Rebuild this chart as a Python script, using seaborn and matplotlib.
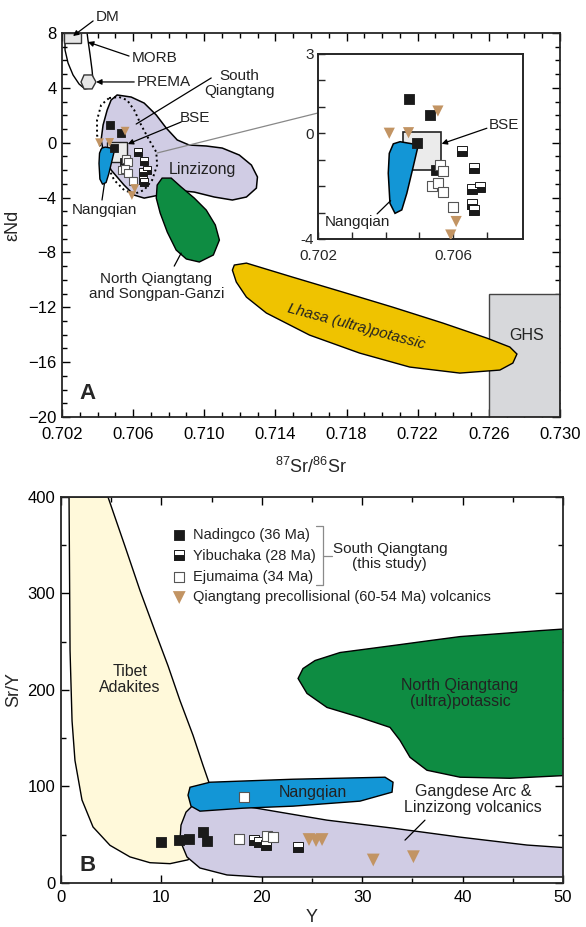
import matplotlib
matplotlib.use('Agg')
import matplotlib.pyplot as plt
import seaborn as sns
from matplotlib.ticker import MultipleLocator

# ---- panel A samples (87Sr/86Sr, eNd)
nad_sr = [0.70468, 0.70532, 0.70492, 0.70550]
nad_nd = [1.29, 0.69, -0.38, -1.39]
yib_sr = [0.70626, 0.70663, 0.70655, 0.70680, 0.70655, 0.70663]
yib_nd = [-0.67, -1.32, -2.12, -2.02, -2.69, -2.90]
eju_sr = [0.70561, 0.70569, 0.70537, 0.70556, 0.70569, 0.70601]
eju_nd = [-1.22, -1.43, -1.99, -1.89, -2.21, -2.80]
qtv_sr = [0.70411, 0.70468, 0.70555, 0.70609, 0.70593]
qtv_nd = [0.00, 0.02, 0.84, -3.34, -3.85]

# ---- panel A fields
linz_sr = [0.70510, 0.70589, 0.70662, 0.70730, 0.70786, 0.70848, 0.70915, 0.71011, 0.71101, 0.71197,
           0.71265, 0.71299, 0.71293, 0.71237, 0.71158, 0.71056, 0.70944, 0.70831, 0.70746, 0.70662,
           0.70606, 0.70549, 0.70476, 0.70437, 0.70420, 0.70431, 0.70454, 0.70476]
linz_nd = [3.48, 3.33, 2.89, 2.02, 1.07, 0.20, -0.17, -0.24, -0.39, -0.90,
           -1.63, -2.50, -3.31, -3.96, -4.18, -3.96, -3.60, -3.45, -3.82, -4.04,
           -3.82, -3.09, -1.99, -0.90, 0.20, 1.29, 2.38, 3.11]
sq_sr = [0.70465, 0.70521, 0.70566, 0.70606, 0.70645, 0.70690, 0.70730, 0.70735, 0.70707,
         0.70662, 0.70606, 0.70549, 0.70493, 0.70454, 0.70420, 0.70397, 0.70397, 0.70420]
sq_nd = [3.26, 3.33, 3.11, 2.38, 1.29, 0.20, -0.68, -1.63, -2.72,
         -3.45, -3.74, -3.45, -2.72, -1.63, -0.53, 0.56, 1.65, 2.75]
nq_sr = [0.70443, 0.70497, 0.70482, 0.70463, 0.70448, 0.70428, 0.70413, 0.70408, 0.70411, 0.70423]
nq_nd = [-0.32, -0.44, -1.26, -2.27, -2.90, -3.03, -2.65, -1.51, -0.76, -0.40]
nqsg_sr = [0.70735, 0.70763, 0.70814, 0.70870, 0.70944, 0.71011, 0.71062, 0.71085,
           0.71051, 0.70972, 0.70899, 0.70842, 0.70792, 0.70752, 0.70730]
nqsg_nd = [-3.09, -2.58, -2.58, -3.23, -4.04, -4.91, -6.00, -7.10,
           -8.19, -8.70, -8.48, -7.83, -6.52, -5.13, -4.04]
lhasa_sr = [0.71169, 0.71237, 0.71496, 0.71778, 0.72059, 0.72341, 0.72589, 0.72718, 0.72758, 0.72735,
            0.72662, 0.72437, 0.72155, 0.71873, 0.71592, 0.71349, 0.71237, 0.71180, 0.71158]
lhasa_nd = [-8.92, -8.78, -9.80, -10.89, -11.99, -13.15, -14.25, -14.90, -15.41, -16.07,
            -16.58, -16.80, -16.36, -15.34, -14.03, -12.42, -11.26, -10.16, -9.29]
morb_sr = [0.70217, 0.70217, 0.70234, 0.70262, 0.70296, 0.70329, 0.70358, 0.70375, 0.70369, 0.70358, 0.70346, 0.70341]
morb_nd = [7.78, 6.76, 5.81, 4.94, 4.28, 3.92, 3.99, 4.43, 5.30, 6.40, 7.49, 8.00]
prema_sr = [0.70307, 0.70324, 0.70369, 0.70391, 0.70369, 0.70324]
prema_nd = [4.43, 4.94, 4.94, 4.43, 3.92, 3.92]
dm_sr = [0.70212, 0.70307]
dm_nd = [7.30, 8.00]
bse_sr = [0.70452, 0.70564]
bse_nd = [-1.39, 0.05]
ghs_sr = [0.7260, 0.7300]
ghs_nd = [-20.0, -11.0]

xticks_A = [0.702, 0.706, 0.710, 0.714, 0.718, 0.722, 0.726, 0.730]
yticks_A = [-20, -16, -12, -8, -4, 0, 4, 8]
xticks_in = [0.702, 0.703, 0.704, 0.705, 0.706, 0.707]
xlabels_in = ['0.702', '', '', '', '0.706', '']
yticks_in = [-4, -3, -2, -1, 0, 1, 2, 3]
ylabels_in = ['-4', '', '', '', '0', '', '', '3']

# ---- panel B samples (Y, Sr/Y)
nad_y = [10.0, 11.8, 12.7, 14.1, 14.5]
nad_sry = [42, 45, 46, 53, 43]
yib_y = [19.2, 19.7, 20.4, 23.6]
yib_sry = [45, 42, 39.5, 37]
eju_y = [17.7, 20.5, 21.1, 18.2]
eju_sry = [46, 48.6, 47.9, 89]
qtv_y = [24.7, 25.4, 26.0, 31.1, 35.1]
qtv_sry = [45, 44, 45, 23.8, 27.2]

# ---- panel B fields
tibet_y = [0.80, 4.68, 6.37, 7.87, 9.36, 10.66, 11.85, 13.15, 14.14, 14.84, 15.24,
           14.34, 12.65, 10.86, 8.86, 6.87, 4.88, 3.19, 2.09, 1.39, 1.10, 0.90]
tibet_sry = [400, 400, 349, 303, 261, 225, 189, 153, 122, 101, 81,
             50, 24, 20, 21, 27, 39, 58, 86, 127, 168, 241]
gang_y = [18.82, 26.49, 33.07, 39.74, 46.41, 50.70, 50.70, 26.49, 19.82, 16.53,
          13.84, 12.55, 11.85, 11.95, 12.45, 13.35, 14.84, 17.33]
gang_sry = [78.6, 65.1, 56.8, 47.5, 39.3, 36.2, 6.2, 6.2, 6.2, 8.3,
            15.5, 26.9, 44.4, 59.9, 73.4, 82.7, 85.8, 82.7]
nqb_y = [12.85, 14.84, 23.11, 32.27, 33.07, 32.97, 29.78, 23.11, 18.13, 13.84, 12.95, 12.65]
nqb_sry = [99.2, 104.4, 107.5, 109.6, 104.4, 94.1, 84.8, 79.6, 77.5, 74.4, 79.6, 91.0]
nqp_y = [23.61, 24.10, 25.30, 27.79, 30.78, 33.76, 36.75, 39.74, 43.73, 47.71, 50.70,
         50.70, 44.72, 39.74, 36.45, 34.76, 33.76, 32.77, 29.78, 26.49, 24.50]
nqp_sry = [211.9, 222.2, 230.5, 238.8, 242.9, 247.0, 251.2, 255.3, 258.4, 261.5, 263.6,
           111.6, 108.5, 109.6, 116.8, 130.2, 147.8, 161.2, 171.6, 181.9, 196.4]

legend_labels = ['Nadingco (36 Ma)', 'Yibuchaka (28 Ma)', 'Ejumaima (34 Ma)',
                 'Qiangtang precollisional (60-54 Ma) volcanics']

LAV = '#D0CCE4'
BLUE = '#1396D6'
GREEN = '#0E8C42'
GOLD = '#EFC300'
TAN = '#C29463'
DARK = '#1a1a1a'

sns.set_style('ticks')
plt.rcParams['font.family'] = ['Liberation Sans', 'DejaVu Sans']
plt.rcParams['mathtext.fontset'] = 'custom'
plt.rcParams['mathtext.rm'] = 'Liberation Sans'
plt.rcParams['mathtext.it'] = 'Liberation Sans:italic'

fig = plt.figure(figsize=(5.86, 9.27), dpi=100)
axA = fig.add_axes([0.1058, 0.5502, 0.8498, 0.4142])
axI = fig.add_axes([0.5427, 0.7422, 0.3498, 0.1996])
axB = fig.add_axes([0.1041, 0.0475, 0.8567, 0.4164])


def box(ax, xs, ys, fc, ec, z, lw=1.0):
    ax.fill([xs[0], xs[1], xs[1], xs[0]], [ys[0], ys[0], ys[1], ys[1]],
            facecolor=fc, edgecolor=ec, lw=lw, zorder=z)


def samples(ax, s_sq, s_tri, ms, data):
    (nx, ny), (yx, yy), (ex, ey), (tx, ty) = data
    sns.scatterplot(x=nx, y=ny, ax=ax, marker='s', color=DARK, edgecolor=DARK,
                    s=s_sq, linewidth=0.6, zorder=5, legend=False)
    h_nad = ax.collections[-1]
    h_yib, = ax.plot(yx, yy, ls='none', marker='s', ms=ms, fillstyle='bottom',
                     markerfacecolor=DARK, markerfacecoloralt='white',
                     markeredgecolor=DARK, markeredgewidth=0.7, zorder=5)
    sns.scatterplot(x=ex, y=ey, ax=ax, marker='s', color='white', edgecolor='#555555',
                    s=s_sq, linewidth=0.8, zorder=6, legend=False)
    h_eju = ax.collections[-1]
    sns.scatterplot(x=tx, y=ty, ax=ax, marker='v', color=TAN, edgecolor='none',
                    s=s_tri, zorder=7, legend=False)
    h_qtv = ax.collections[-1]
    return [h_nad, h_yib, h_eju, h_qtv]


srnd = [(nad_sr, nad_nd), (yib_sr, yib_nd), (eju_sr, eju_nd), (qtv_sr, qtv_nd)]

# ================= panel A =================
axA.plot(morb_sr, morb_nd, color='k', lw=1.0, zorder=2)
box(axA, dm_sr, dm_nd, '#E6E6E6', '#333333', 3)
axA.fill(prema_sr, prema_nd, facecolor='#E6E6E6', edgecolor='#333333', lw=1.0, zorder=3)
axA.fill(linz_sr, linz_nd, facecolor=LAV, edgecolor='k', lw=1.1, zorder=1)
axA.fill(sq_sr, sq_nd, facecolor='none', edgecolor='k', lw=1.4, ls=(0, (1, 1.6)), zorder=2)
box(axA, bse_sr, bse_nd, '#EBEBEB', '#222222', 3)
axA.fill(nq_sr, nq_nd, facecolor=BLUE, edgecolor='k', lw=1.0, zorder=4)
axA.fill(nqsg_sr, nqsg_nd, facecolor=GREEN, edgecolor='k', lw=1.0, zorder=2)
box(axA, ghs_sr, ghs_nd, '#D7D8DB', '#444444', 1)
axA.fill(lhasa_sr, lhasa_nd, facecolor=GOLD, edgecolor='k', lw=1.0, zorder=2)
samples(axA, 30, 40, 5.4, srnd)

# connector to the inset
axA.plot([0.70735, 0.71637], [-0.75, 2.16], color='#888888', lw=0.9, zorder=2)

arr = dict(arrowstyle='-|>', color='k', lw=0.9, mutation_scale=8, shrinkA=0, shrinkB=0)
ln = dict(arrowstyle='-', color='k', lw=0.9, shrinkA=0, shrinkB=0)
lab = dict(fontsize=11, color='#222222')
axA.text(0.70454, 9.17, 'DM', ha='center', va='center', **lab)
axA.annotate('', xy=(0.70262, 7.78), xytext=(0.70375, 8.88), arrowprops=arr, annotation_clip=False)
axA.text(0.70594, 6.18, 'MORB', ha='left', va='center', **lab)
axA.annotate('', xy=(0.70346, 7.34), xytext=(0.70577, 6.32), arrowprops=arr)
axA.text(0.70623, 4.43, 'PREMA', ha='left', va='center', **lab)
axA.annotate('', xy=(0.70392, 4.43), xytext=(0.70606, 4.43), arrowprops=arr)
axA.text(0.71197, 4.32, 'South\nQiangtang', ha='center', va='center', linespacing=1.05, **lab)
axA.annotate('', xy=(0.70617, 1.36), xytext=(0.71039, 4.72), arrowprops=ln)
axA.text(0.70949, 1.80, 'BSE', ha='center', va='center', **lab)
axA.annotate('', xy=(0.70570, -0.10), xytext=(0.70870, 1.51), arrowprops=arr)
axA.text(0.70989, -1.99, 'Linzizong', ha='center', va='center', fontsize=11.5, color='#222222')
axA.text(0.70437, -4.91, 'Nangqian', ha='center', va='center', **lab)
axA.annotate('', xy=(0.70454, -1.63), xytext=(0.70425, -4.18), arrowprops=ln)
axA.text(0.70730, -10.49, 'North Qiangtang\nand Songpan-Ganzi', ha='center', va='center',
         linespacing=1.05, **lab)
axA.annotate('', xy=(0.70870, -8.05), xytext=(0.70831, -9.00), arrowprops=ln)
axA.text(0.71856, -13.44, 'Lhasa (ultra)potassic', ha='center', va='center', rotation=-15,
         rotation_mode='anchor', style='italic', fontsize=11, color='#222222', zorder=6)
axA.text(0.72814, -14.03, 'GHS', ha='center', va='center', fontsize=11.5, color='#222222')
axA.text(0.70341, -18.26, 'A', ha='center', va='center', fontsize=16, fontweight='bold')

axA.set_xlim(0.702, 0.730)
axA.set_ylim(-20, 8)
axA.set_xticks(xticks_A, labels=['%.3f' % v for v in xticks_A])
axA.set_yticks(yticks_A)
axA.xaxis.set_minor_locator(MultipleLocator(0.001))
axA.yaxis.set_minor_locator(MultipleLocator(1))
axA.set_xlabel(r'$^{87}$Sr/$^{86}$Sr', fontsize=13)
axA.set_ylabel('εNd', fontsize=13)
axA.xaxis.set_label_coords(0.5, -0.105)
axA.yaxis.set_label_coords(-0.082, 0.5)

# ================= inset =================
box(axI, bse_sr, bse_nd, '#EBEBEB', '#222222', 2, lw=1.2)
axI.fill(nq_sr, nq_nd, facecolor=BLUE, edgecolor='k', lw=1.1, zorder=3)
samples(axI, 55, 65, 7.3, srnd)
axI.text(0.70750, 0.32, 'BSE', ha='center', va='center', **lab)
axI.annotate('', xy=(0.70566, -0.40), xytext=(0.70700, 0.19), arrowprops=arr)
axI.text(0.70316, -3.35, 'Nangqian', ha='center', va='center', **lab)
axI.annotate('', xy=(0.70415, -2.55), xytext=(0.70375, -3.05), arrowprops=ln)
axI.set_xlim(0.702, 0.70807)
axI.set_ylim(-4, 3)
axI.set_xticks(xticks_in, labels=xlabels_in)
axI.set_yticks(yticks_in, labels=ylabels_in)
axI.tick_params(direction='in', length=5, width=1, labelsize=11, top=False, right=False)
axI.tick_params(axis='x', pad=7)
axI.tick_params(axis='y', pad=3)
for s in axI.spines.values():
    s.set_linewidth(1.4)

# ================= panel B =================
axB.fill(tibet_y, tibet_sry, facecolor='#FFF9DA', edgecolor='k', lw=1.0, zorder=1)
axB.fill(gang_y, gang_sry, facecolor=LAV, edgecolor='k', lw=1.0, zorder=2)
axB.fill(nqp_y, nqp_sry, facecolor=GREEN, edgecolor='k', lw=1.0, zorder=2)
axB.fill(nqb_y, nqb_sry, facecolor=BLUE, edgecolor='k', lw=1.0, zorder=3)
handles = samples(axB, 62, 85, 7.8,
                  [(nad_y, nad_sry), (yib_y, yib_sry), (eju_y, eju_sry), (qtv_y, qtv_sry)])

labB = dict(fontsize=11.5, color='#222222', ha='center', va='center', linespacing=1.05)
axB.text(6.87, 211.0, 'Tibet\nAdakites', **labB)
axB.text(39.74, 196.4, 'North Qiangtang\n(ultra)potassic', **labB)
axB.text(25.1, 94.1, 'Nangqian', **labB)
axB.text(41.04, 86.8, 'Gangdese Arc &\nLinzizong volcanics', **labB)
axB.annotate('', xy=(34.26, 44.4), xytext=(36.25, 65.1), arrowprops=ln)
axB.text(2.69, 18.6, 'B', ha='center', va='center', fontsize=16, fontweight='bold')

leg = axB.legend(handles, legend_labels, loc='upper left', bbox_to_anchor=(0.221, 0.919),
                 frameon=False, fontsize=10.5, handlelength=1.0, handletextpad=0.45,
                 labelspacing=0.46, borderpad=0, borderaxespad=0)
for t in leg.get_texts():
    t.set_color('#222222')
# bracket linking the three South Qiangtang suites
bx = [0.508, 0.522, 0.522, 0.508]
by = [0.924, 0.924, 0.772, 0.772]
axB.plot(bx, by, transform=axB.transAxes, color='#8a8a8a', lw=0.9, clip_on=False)
axB.plot([0.522, 0.540], [0.846, 0.846], transform=axB.transAxes, color='#8a8a8a', lw=0.9)
axB.text(0.655, 0.846, 'South Qiangtang\n(this study)', transform=axB.transAxes,
         fontsize=11, color='#222222', ha='center', va='center', linespacing=1.05)

axB.set_xlim(0, 50)
axB.set_ylim(0, 400)
axB.xaxis.set_major_locator(MultipleLocator(10))
axB.xaxis.set_minor_locator(MultipleLocator(5))
axB.yaxis.set_major_locator(MultipleLocator(100))
axB.yaxis.set_minor_locator(MultipleLocator(50))
axB.set_xlabel('Y', fontsize=13)
axB.set_ylabel('Sr/Y', fontsize=13)
axB.xaxis.set_label_coords(0.5, -0.068)
axB.yaxis.set_label_coords(-0.078, 0.5)

for ax in (axA, axB):
    ax.tick_params(which='both', direction='in', top=True, right=True, width=1.0,
                   labelsize=12, colors='k')
    ax.tick_params(which='major', length=6)
    ax.tick_params(which='minor', length=3.5)
    ax.tick_params(axis='y', pad=4)
    for s in ax.spines.values():
        s.set_linewidth(1.3)
axA.tick_params(axis='x', pad=7)
axB.tick_params(axis='x', pad=5)

fig.savefig('out.png', dpi=100)
